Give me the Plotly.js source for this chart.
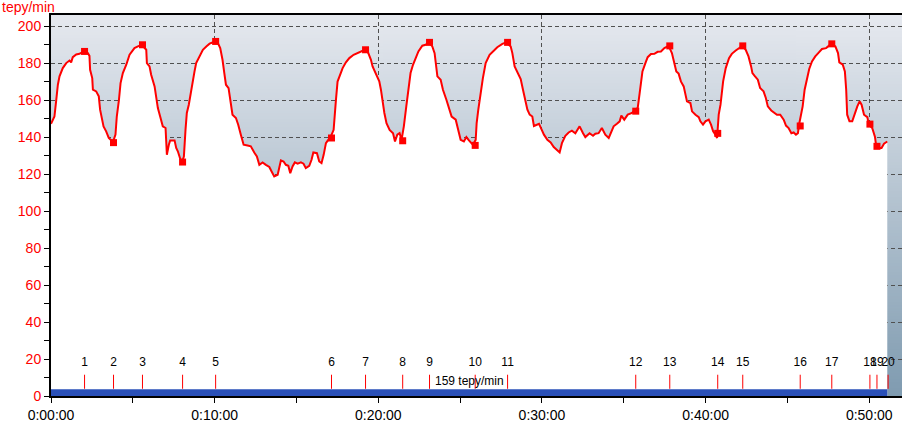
<!DOCTYPE html>
<html>
<head>
<meta charset="utf-8">
<script src="https://cdn.plot.ly/plotly-3.0.1.min.js"></script>
<style>
html,body{margin:0;padding:0;background:#fff;}
#chart{width:904px;height:423px;}
</style>
</head>
<body>
<div id="chart"></div>
<script>
// Heart rate samples: time in minutes, heart rate in beats/min
var times = [0.00,0.21,0.32,0.42,0.52,0.72,0.93,1.13,1.23,1.33,1.54,1.74,2.01,2.25,2.35,2.39,2.52,2.56,2.76,2.92,3.00,3.13,3.21,3.37,3.53,3.68,3.78,3.94,4.02,4.15,4.25,4.39,4.60,4.80,5.10,5.31,5.55,5.82,5.86,6.02,6.12,6.33,6.43,6.53,6.67,6.83,7.00,7.08,7.20,7.28,7.55,7.65,7.75,7.90,8.02,8.12,8.22,8.30,8.42,8.53,8.63,8.77,8.87,9.08,9.28,9.49,9.69,10.04,10.20,10.34,10.48,10.59,10.69,10.85,10.95,11.09,11.30,11.44,11.60,11.77,12.01,12.21,12.42,12.58,12.73,12.93,13.13,13.34,13.48,13.64,13.85,13.95,14.05,14.21,14.35,14.50,14.62,14.76,14.90,15.07,15.27,15.43,15.57,15.78,15.92,16.03,16.25,16.39,16.53,16.66,16.80,16.94,17.10,17.27,17.35,17.41,17.51,17.68,17.82,18.02,18.23,18.49,18.73,19.00,19.18,19.39,19.55,19.65,19.85,20.06,20.16,20.26,20.37,20.50,20.69,20.90,21.02,21.16,21.30,21.42,21.56,21.71,21.83,21.97,22.12,22.28,22.45,22.69,22.89,23.10,23.30,23.44,23.55,23.61,23.81,23.95,24.16,24.32,24.48,24.73,24.89,25.03,25.23,25.38,25.54,25.78,25.95,26.01,26.11,26.25,26.39,26.56,26.80,27.07,27.27,27.58,27.82,28.09,28.19,28.33,28.50,28.70,28.84,28.96,29.11,29.25,29.41,29.51,29.72,29.82,29.96,30.12,30.33,30.53,30.72,30.88,31.08,31.22,31.43,31.63,31.83,32.04,32.30,32.51,32.65,32.91,33.12,33.26,33.46,33.66,33.87,34.08,34.22,34.38,34.58,34.75,34.85,35.03,35.24,35.50,35.67,35.85,35.97,36.05,36.14,36.32,36.46,36.66,36.87,37.07,37.27,37.48,37.74,37.94,38.09,38.21,38.35,38.49,38.66,38.76,38.86,39.07,39.17,39.38,39.58,39.68,39.84,39.99,40.19,40.33,40.46,40.60,40.70,40.80,40.91,41.07,41.23,41.43,41.60,41.84,42.00,42.25,42.45,42.62,42.78,42.86,43.02,43.19,43.33,43.54,43.68,43.80,44.01,44.22,44.36,44.56,44.77,44.91,45.07,45.24,45.38,45.52,45.64,45.72,45.84,45.93,46.05,46.19,46.33,46.50,46.70,46.91,47.11,47.36,47.68,47.93,48.09,48.17,48.38,48.51,48.59,48.65,48.79,48.96,49.12,49.27,49.41,49.53,49.68,49.88,49.98,50.18,50.35,50.43,50.60,50.75,50.90,51.10];
var heartRate = [147.2,151.1,160,168.3,172.8,177.3,180,181.4,180.4,183.2,184.7,185,186.3,185.4,183.9,176.4,171.9,165.6,164.7,162,154.8,149.4,145.8,143.1,139.5,138.2,137.1,141.3,151.1,160,169.2,174.6,179.1,184.5,188.1,189,189.9,187.2,180,178.2,173.7,167.4,162,155.7,151.1,145.8,144.9,130.4,135.8,138.2,138.2,134.1,132.3,128.1,126.8,129.5,144,153,157.5,163.8,169.2,175.5,180,183.6,187.2,189,190.5,191.7,190.8,188.1,181.8,174.6,168.3,166.5,160.2,152.1,150.3,146.7,141.3,135.9,135.4,135,131.7,129.5,125,126.3,125,123.8,121.4,118.7,119.6,124.1,127.4,126.8,125,124.5,120.5,124.1,126.3,125.6,126.3,125.6,123.2,124.5,127.7,131.7,131.3,126.8,125.9,130.4,136.7,138.5,140.3,143.9,151.1,160,170,174.6,177.3,180.4,182.7,184.5,185.4,186.3,187.2,185.4,181.8,178.2,174.6,170.1,165.6,159.3,153,147.5,143.9,142.1,137.6,141.3,142.1,138.5,145.8,156.6,166.5,174.6,179.1,182.7,186.3,189.4,189.9,191.2,189,185.4,178.2,172.8,171,165.6,160.2,155.7,151.1,149.4,143.9,138.5,137.6,140,138.2,135.8,138.5,147.6,154.8,164.7,171.9,180,184.5,186.8,188.6,190.4,191.2,189,185.4,178.2,174.6,171.4,165.6,160.2,154.8,152.1,151.1,146,146.7,147.2,144.4,141.3,138.5,137.1,134.6,133.1,131.7,136.7,140.7,142.5,143.5,142.1,145.8,142.1,140,142.1,140.7,141.8,142.1,144.9,141.3,139.5,142.1,145.8,147.2,148.5,151.6,149.4,152.1,153,154.8,155.7,163.8,169.2,175.5,180,183.2,184.9,185,186.1,186.3,188.1,189.3,185.4,180,175.5,174.3,170.1,167.4,162.9,159.3,158.4,153.9,152.1,150.8,148.5,146.7,148.5,149.4,146.7,143.1,141.3,139.5,152.1,157.5,170.1,177.3,182.7,185,186.8,187.6,189.3,187.2,183.6,178.2,174.6,172.8,171,166.5,164.7,161.1,156.6,154.4,153,152.1,152.1,149.4,146.2,144.9,142.1,142.5,141.3,142.1,147.2,152.1,156.6,165.6,171.9,176.8,180.9,183.6,185.7,187.6,188.1,190.4,189,185.4,180.4,179.1,175.5,165.6,152.1,148.5,148.5,153,156.6,159.3,157.5,152.1,150.8,146.7,144.9,140,134.6,134.1,134.1,136.4,137.6];

// Laps
var lapNumbers = ["1","2","3","4","5","6","7","8","9","10","11","12","13","14","15","16","17","18","19","20"];
var lapTimes = [2.05,3.82,5.59,8.04,10.06,17.14,19.22,21.49,23.13,25.92,27.90,35.73,37.81,40.74,42.27,45.78,47.71,50.04,50.47,51.15];
var lapHeartRate = [186.3,137,189.9,126.5,191.7,139.5,187.2,138,191.2,135.5,191.2,154,189.3,142,189.3,146,190.4,147,135];

var averageLabel = "159 tepy/min";
var unitLabel = "tepy/min";
var xTickMinutes = [0,10,20,30,40,50];
var yTickValues = [0,20,40,60,80,100,120,140,160,180,200];

function fmtTime(m){
  var h = Math.floor(m/60), mm = m%60;
  return h + ":" + (mm<10?"0":"") + mm + ":00";
}

// build gradient background image
var cv = document.createElement('canvas');
cv.width = 4; cv.height = 256;
var ctx = cv.getContext('2d');
var grd = ctx.createLinearGradient(0,0,0,256);
grd.addColorStop(0,'#e6e9ef');
grd.addColorStop(1,'#7f9bb0');
ctx.fillStyle = grd; ctx.fillRect(0,0,4,256);
var bgURL = cv.toDataURL('image/png');

var tEnd = times[times.length-1];

// lap tick segments
var lapLineX = [], lapLineY = [];
lapTimes.forEach(function(t){ lapLineX.push(t,t,null); lapLineY.push(3.9,11.5,null); });

var traces = [
  { // HR curve with white fill underneath
    x: times, y: heartRate, type:'scatter', mode:'lines',
    fill:'tozeroy', fillcolor:'#ffffff',
    line:{color:'#ff0000', width:2}, hoverinfo:'skip'
  },
  { // blue bar along the bottom covering the session duration
    x:[times[0], tEnd], y:[3.6,3.6], type:'scatter', mode:'lines',
    fill:'tozeroy', fillcolor:'#2a50b8', line:{width:0, color:'#2a50b8'}, hoverinfo:'skip'
  },
  { // lap tick marks
    x: lapLineX, y: lapLineY, type:'scatter', mode:'lines',
    line:{color:'#ff0000', width:1}, hoverinfo:'skip'
  },
  { // lap labels
    x: lapTimes, y: lapTimes.map(function(){return 18.1;}), type:'scatter', mode:'text',
    text: lapNumbers, textposition:'middle center',
    textfont:{family:'Liberation Sans, Arial, sans-serif', size:12, color:'#000000'}, hoverinfo:'skip'
  },
  { // lap markers on curve
    x: lapTimes.slice(0, lapHeartRate.length), y: lapHeartRate, type:'scatter', mode:'markers',
    marker:{symbol:'square', size:7, color:'#ff0000'}, hoverinfo:'skip'
  }
];

var layout = {
  width:904, height:423,
  margin:{l:51, r:2, t:15, b:27, pad:0},
  paper_bgcolor:'#ffffff', plot_bgcolor:'rgba(0,0,0,0)',
  showlegend:false,
  font:{family:'Liberation Sans, Arial, sans-serif', size:14, color:'#000'},
  images:[{source:bgURL, xref:'paper', yref:'paper', x:0, y:1, sizex:1, sizey:1,
           xanchor:'left', yanchor:'top', sizing:'stretch', layer:'below'}],
  xaxis:{
    range:[0,52], tickmode:'array', tickvals:xTickMinutes, ticktext:xTickMinutes.map(fmtTime),
    ticks:'outside', ticklen:5, tickwidth:1, tickcolor:'#000',
    minor:{dtick:5, tick0:0, ticks:'outside', ticklen:5, tickwidth:1, tickcolor:'#000', showgrid:false},
    showgrid:true, gridcolor:'#505050', gridwidth:1, griddash:'4px,3px',
    showline:true, linecolor:'#000', linewidth:2, mirror:true, zeroline:false,
    tickfont:{size:14, color:'#000000'}, fixedrange:true
  },
  yaxis:{
    range:[0,206], tickmode:'array', tickvals:yTickValues,
    ticks:'outside', ticklen:5, tickwidth:1, tickcolor:'#000',
    minor:{dtick:10, tick0:0, ticks:'outside', ticklen:5, tickwidth:1, tickcolor:'#000', showgrid:false},
    showgrid:true, gridcolor:'#505050', gridwidth:1, griddash:'4px,3px',
    showline:true, linecolor:'#000', linewidth:2, zeroline:false,
    tickfont:{size:14, color:'#ff0000'}, fixedrange:true
  },
  annotations:[
    {text:unitLabel, xref:'paper', yref:'paper', x:-51/851, y:1, xanchor:'left', yanchor:'bottom',
     yshift:-2, showarrow:false, font:{size:14, color:'#ff0000'}},
    {text:averageLabel, xref:'x', yref:'y', x:(times[0]+tEnd)/2, y:8.1, xanchor:'center', yanchor:'middle',
     showarrow:false, font:{size:12, color:'#000000'}}
  ]
};

Plotly.newPlot('chart', traces, layout, {staticPlot:true, displayModeBar:false});
</script>
</body>
</html>
